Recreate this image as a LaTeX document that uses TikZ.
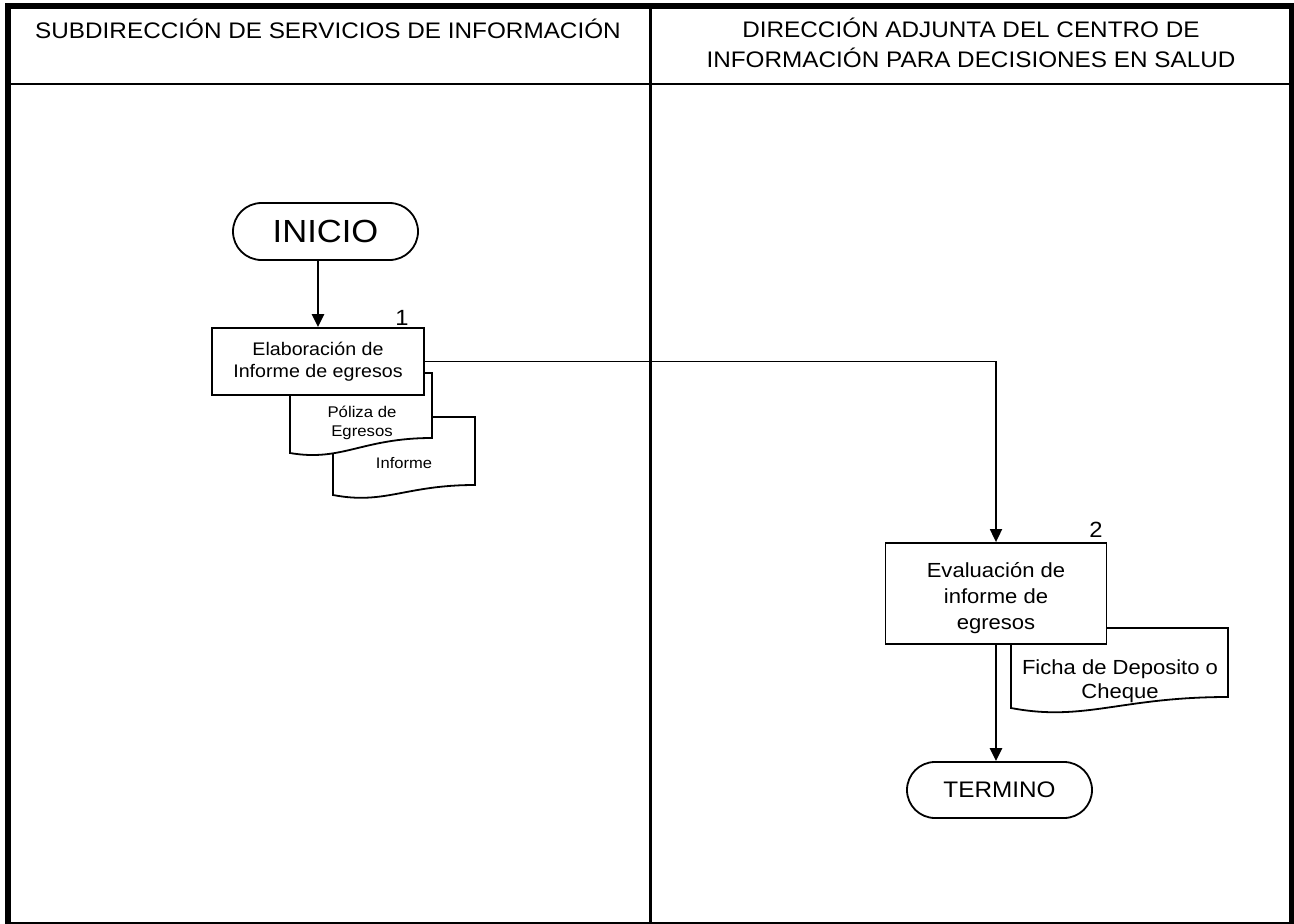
\documentclass[tikz,border=0pt]{standalone}
\usepackage{fontspec}
\setmainfont{Liberation Sans}[FakeStretch=1.08]
\usetikzlibrary{arrows.meta,shapes.misc}
\begin{document}
\begin{tikzpicture}[x=1pt,y=-1pt,
  box/.style={draw,line width=1.8pt,fill=white,align=center,inner sep=0pt},
  term/.style={draw,line width=1.8pt,rounded rectangle,fill=white,inner sep=0pt,align=center},
  docline/.style={draw,line width=1.8pt,fill=white},
  flow/.style={line width=2.6pt,-{Triangle[width=12pt,length=13pt]}},
  thinflow/.style={line width=1.8pt,-{Triangle[width=12pt,length=13pt]}},
  lbl/.style={inner sep=0pt,align=center}
]
\useasboundingbox (0,0) rectangle (1294,924);
\fill[white] (0,0) rectangle (1294,924);
% frame and lanes
\draw[line width=2pt] (8,922.5) -- (1291,922.5);
\draw[line width=2pt] (8,84) -- (1291,84);
\draw[line width=3pt] (650,6) -- (650,923);
\draw[line width=6pt] (5,6) -- (1294,6);
\draw[line width=6pt] (8,3) -- (8,924);
\draw[line width=5pt] (1291.5,3) -- (1291.5,924);
% headers
\node[lbl,anchor=base,font=\fontsize{22.5}{26}\selectfont] (h1) at (328,38) {SUBDIRECCIÓN DE SERVICIOS DE INFORMACIÓN};
\node[lbl,anchor=base,font=\fontsize{22.5}{26}\selectfont] (h2a) at (971,37) {DIRECCIÓN ADJUNTA DEL CENTRO DE};
\node[lbl,anchor=base,font=\fontsize{22.5}{26}\selectfont] (h2b) at (971,67) {INFORMACIÓN PARA DECISIONES EN SALUD};
% documents behind box 1
\path[docline] (333,417) -- (475,417) -- (475,485) .. controls (405,485) and (385,505) .. (333,495) -- cycle;
\path[docline] (290,373) -- (432,373) -- (432,438) .. controls (362,438) and (342,462) .. (290,453) -- cycle;
\node[lbl,font=\fontsize{15.5}{19}\selectfont] (pol) at (362,423) {Póliza de\\Egresos};
\node[lbl,anchor=base,font=\fontsize{15.3}{18}\selectfont] (inf) at (404,468) {Informe};
% document behind box 2
\path[docline] (1011,628) -- (1228,628) -- (1228,697) .. controls (1120,697) and (1085,722) .. (1011,708) -- cycle;
\node[lbl,font=\fontsize{20.4}{24}\selectfont] (ficha) at (1120,681) {Ficha de Deposito o\\Cheque};
% nodes
\node[term,minimum width=185pt,minimum height=57pt,font=\fontsize{32}{36}\selectfont] (ini) at (325.5,231.5) {INICIO};
\node[box,minimum width=212pt,minimum height=67pt,font=\fontsize{18.2}{22}\selectfont] (b1) at (318,361.5) {Elaboración de\\Informe de egresos};
\node[lbl,anchor=base,font=\fontsize{22}{25}\selectfont] (n1) at (402,325) {1};
\node[box,minimum width=221pt,minimum height=101pt,font=\fontsize{20.4}{26}\selectfont] (b2) at (996,593.5) {\rule{0pt}{24pt}Evaluación de\\informe de\\egresos};
\node[lbl,anchor=base,font=\fontsize{22}{25}\selectfont] (n2) at (1096,537) {2};
\node[term,minimum width=185pt,minimum height=56pt,font=\fontsize{22.5}{25}\selectfont] (fin) at (999.5,790) {TERMINO};
% connectors
\draw[flow] (ini.south -| b1.north) -- (b1.north);
\draw[thinflow] (b1.east) -| (b2.north);
\draw[flow] (b2.south) -- (b2.south |- fin.north);
\end{tikzpicture}
\end{document}
